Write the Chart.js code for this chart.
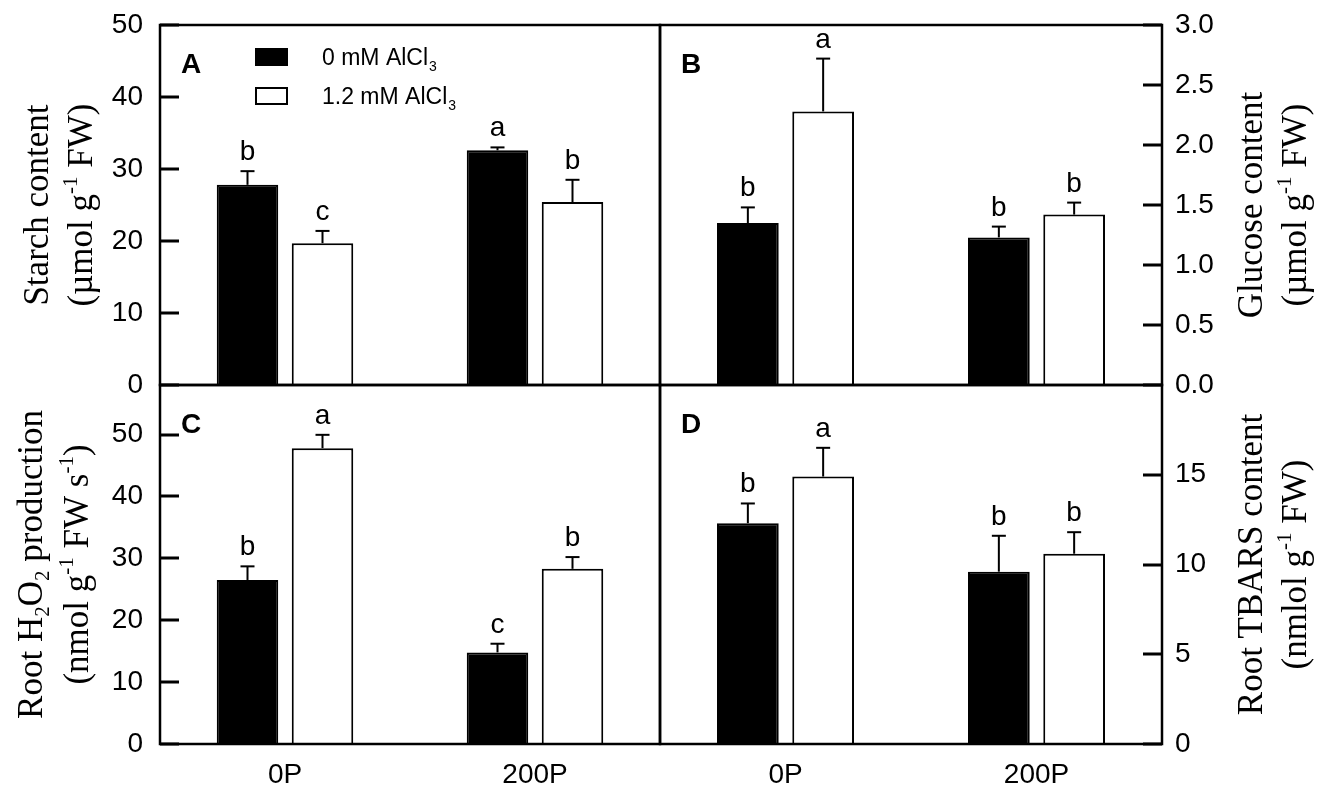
<!DOCTYPE html>
<html>
<head>
<meta charset="utf-8">
<script src="https://cdn.jsdelivr.net/npm/chart.js@4.4.0/dist/chart.umd.min.js"></script>
<style>
html, body { margin: 0; padding: 0; background: #fff; }
#wrap { position: relative; width: 1324px; height: 792px; }
#wrap canvas { position: absolute; left: 0; top: 0; }
</style>
</head>
<body>
<div id="wrap">
	<canvas id="panelA" width="1324" height="792"></canvas>
	<canvas id="panelB" width="1324" height="792"></canvas>
	<canvas id="panelC" width="1324" height="792"></canvas>
	<canvas id="panelD" width="1324" height="792"></canvas>
</div>
<script>
const groups = ['0P', '200P'];
const seriesLabels = ['0 mM AlCl3', '1.2 mM AlCl3'];

// A - starch
const starchCtrl = [27.8, 32.6];
const starchAl = [19.7, 25.4];
const starchCtrlErr = [1.9, 0.4];
const starchAlErr = [1.7, 3.1];
const starchCtrlSig = ['b', 'a'];
const starchAlSig = ['c', 'b'];
const starchTicks = [0, 10, 20, 30, 40, 50];

// B - glucose
const glucoseCtrl = [1.35, 1.23];
const glucoseAl = [2.28, 1.42];
const glucoseCtrlErr = [0.13, 0.09];
const glucoseAlErr = [0.44, 0.10];
const glucoseCtrlSig = ['b', 'b'];
const glucoseAlSig = ['a', 'b'];
const glucoseTicks = [0, 0.5, 1.0, 1.5, 2.0, 2.5, 3.0];

// C - root H2O2
const h2o2Ctrl = [26.5, 14.8];
const h2o2Al = [47.8, 28.3];
const h2o2CtrlErr = [2.2, 1.4];
const h2o2AlErr = [2.15, 1.9];
const h2o2CtrlSig = ['b', 'c'];
const h2o2AlSig = ['a', 'b'];
const h2o2Ticks = [0, 10, 20, 30, 40, 50];

// D - root TBARS
const tbarsCtrl = [12.3, 9.6];
const tbarsAl = [14.9, 10.6];
const tbarsCtrlErr = [1.1, 2.0];
const tbarsAlErr = [1.6, 1.2];
const tbarsCtrlSig = ['b', 'b'];
const tbarsAlSig = ['a', 'b'];
const tbarsTicks = [0, 5, 10, 15];

const W = 1324, H = 792;
const TICK = 19;
const SANS = '"Liberation Sans", Arial, sans-serif';
const SERIF = '"Liberation Serif", "Times New Roman", serif';

// text with sup/sub pieces, centred on (cx, cy), rotated to read bottom-up
function drawRich(ctx, parts, cx, cy, size) {
	ctx.save();
	ctx.translate(cx, cy);
	ctx.rotate(-Math.PI / 2);
	ctx.textAlign = 'left';
	ctx.textBaseline = 'alphabetic';
	const widths = parts.map(([t, m]) => {
		ctx.font = (m ? Math.round(size * 0.6) : size) + 'px ' + SERIF;
		return ctx.measureText(t).width;
	});
	let x = -widths.reduce((s, w) => s + w, 0) / 2;
	parts.forEach(([t, m], i) => {
		ctx.font = (m ? Math.round(size * 0.6) : size) + 'px ' + SERIF;
		const dy = m === 'sup' ? -size * 0.42 : (m === 'sub' ? size * 0.2 : 0);
		ctx.fillText(t, x, size * 0.33 + dy);
		x += widths[i];
	});
	ctx.restore();
}

function drawLegend(ctx, chart) {
	chart.data.datasets.forEach((ds, i) => {
		const rowY = 57 + i * 39;
		ctx.fillStyle = ds.backgroundColor;
		ctx.fillRect(256, rowY - 8, 31, 16);
		ctx.lineWidth = 2;
		ctx.strokeStyle = '#000';
		ctx.strokeRect(256, rowY - 8, 31, 16);
		ctx.fillStyle = '#000';
		ctx.textAlign = 'left';
		ctx.textBaseline = 'alphabetic';
		ctx.font = '23px ' + SANS;
		const main = ds.label.slice(0, -1);
		ctx.fillText(main, 322, rowY + 8);
		const w = ctx.measureText(main).width;
		ctx.font = '14px ' + SANS;
		ctx.fillText(ds.label.slice(-1), 322 + w + 1, rowY + 14);
	});
}

function decoPlugin(p) {
	return {
		id: 'deco',
		afterDraw(chart) {
			const ctx = chart.ctx;
			const a = chart.chartArea;
			const y = chart.scales.y;
			ctx.save();
			ctx.strokeStyle = '#000';
			ctx.fillStyle = '#000';

			// error bars + significance letters
			chart.data.datasets.forEach((ds, i) => {
				chart.getDatasetMeta(i).data.forEach((bar, j) => {
					const yBar = y.getPixelForValue(ds.data[j]);
					const yTop = y.getPixelForValue(ds.data[j] + ds.errors[j]);
					ctx.fillRect(bar.x - 1, yTop, 2, yBar - yTop);
					ctx.fillRect(bar.x - 7, yTop - 1, 14, 2);
					ctx.font = '28px ' + SANS;
					ctx.textAlign = 'center';
					ctx.textBaseline = 'alphabetic';
					ctx.fillText(ds.sig[j], bar.x, yTop - 11);
				});
			});

			// frame
			ctx.lineWidth = 2.5;
			ctx.strokeRect(a.left, a.top, a.right - a.left, a.bottom - a.top);

			// inward tick marks
			for (const v of p.ticks) {
				const py = Math.round(y.getPixelForValue(v));
				const x0 = p.side === 'left' ? a.left : a.right - TICK;
				ctx.fillRect(x0, py - 1.5, TICK, 3);
			}

			// panel tag
			ctx.font = 'bold 28px ' + SANS;
			ctx.textAlign = 'left';
			ctx.textBaseline = 'alphabetic';
			ctx.fillText(p.tag, a.left + 21, a.top + 48);

			// axis title
			p.title.forEach((line, k) => drawRich(ctx, line, p.titleX[k], (a.top + a.bottom) / 2, 35));

			if (p.legend) drawLegend(ctx, chart);
			ctx.restore();
		}
	};
}

function buildPanel(id, p) {
	const onLeft = p.side === 'left';
	new Chart(document.getElementById(id), {
		type: 'bar',
		data: {
			labels: groups,
			datasets: [
				{ label: seriesLabels[0], data: p.ctrl, errors: p.ctrlErr, sig: p.ctrlSig, backgroundColor: '#000', borderColor: '#000', borderWidth: 2, categoryPercentage: 0.6, barPercentage: 0.82 },
				{ label: seriesLabels[1], data: p.al, errors: p.alErr, sig: p.alSig, backgroundColor: '#fff', borderColor: '#000', borderWidth: 2, categoryPercentage: 0.6, barPercentage: 0.82 }
			]
		},
		options: {
			responsive: false,
			animation: false,
			devicePixelRatio: 1,
			layout: {
				padding: {
					left: onLeft ? 0 : p.box.left,
					right: onLeft ? W - p.box.right : 0,
					top: p.box.top,
					bottom: p.showX ? 0 : H - p.box.bottom
				}
			},
			plugins: { legend: { display: false }, tooltip: { enabled: false } },
			scales: {
				x: {
					grid: { display: false, drawTicks: false },
					border: { display: false },
					ticks: { display: p.showX, color: '#000', padding: 14, font: { family: SANS, size: 28 } },
					afterFit: s => {
						s.height = p.showX ? H - p.box.bottom : 0;
						s.paddingLeft = s.paddingRight = 0;
					}
				},
				y: {
					position: p.side,
					min: 0,
					max: p.max,
					grid: { display: false, drawTicks: false },
					border: { display: false },
					afterBuildTicks: s => { s.ticks = p.ticks.map(v => ({ value: v })); },
					ticks: { color: '#000', padding: onLeft ? 17 : 13, font: { family: SANS, size: 28 }, callback: p.fmt },
					afterFit: s => {
						s.width = onLeft ? p.box.left : W - p.box.right;
						s.paddingTop = s.paddingBottom = 0;
					}
				}
			}
		},
		plugins: [decoPlugin(p)]
	});
}

const gPerFW = (unit) => [['(' + unit + ' g', ''], ['-1', 'sup'], [' FW)', '']];

buildPanel('panelA', {
	box: { left: 160, top: 25, right: 660, bottom: 385 }, side: 'left', max: 50,
	ticks: starchTicks, fmt: v => v, showX: false, tag: 'A', legend: true,
	ctrl: starchCtrl, al: starchAl, ctrlErr: starchCtrlErr, alErr: starchAlErr, ctrlSig: starchCtrlSig, alSig: starchAlSig,
	title: [[['Starch content', '']], gPerFW('µmol')], titleX: [36, 80]
});
buildPanel('panelB', {
	box: { left: 660, top: 25, right: 1162, bottom: 385 }, side: 'right', max: 3,
	ticks: glucoseTicks, fmt: v => v.toFixed(1), showX: false, tag: 'B', legend: false,
	ctrl: glucoseCtrl, al: glucoseAl, ctrlErr: glucoseCtrlErr, alErr: glucoseAlErr, ctrlSig: glucoseCtrlSig, alSig: glucoseAlSig,
	title: [[['Glucose content', '']], gPerFW('µmol')], titleX: [1250, 1294]
});
buildPanel('panelC', {
	box: { left: 160, top: 385, right: 660, bottom: 744 }, side: 'left', max: 58,
	ticks: h2o2Ticks, fmt: v => v, showX: true, tag: 'C', legend: false,
	ctrl: h2o2Ctrl, al: h2o2Al, ctrlErr: h2o2CtrlErr, alErr: h2o2AlErr, ctrlSig: h2o2CtrlSig, alSig: h2o2AlSig,
	title: [
		[['Root H', ''], ['2', 'sub'], ['O', ''], ['2', 'sub'], [' production', '']],
		[['(nmol g', ''], ['-1', 'sup'], [' FW s', ''], ['-1', 'sup'], [')', '']]
	], titleX: [30, 76]
});
buildPanel('panelD', {
	box: { left: 660, top: 385, right: 1162, bottom: 744 }, side: 'right', max: 20,
	ticks: tbarsTicks, fmt: v => v, showX: true, tag: 'D', legend: false,
	ctrl: tbarsCtrl, al: tbarsAl, ctrlErr: tbarsCtrlErr, alErr: tbarsAlErr, ctrlSig: tbarsCtrlSig, alSig: tbarsAlSig,
	title: [[['Root TBARS content', '']], gPerFW('nmlol')], titleX: [1250, 1294]
});
</script>
</body>
</html>
